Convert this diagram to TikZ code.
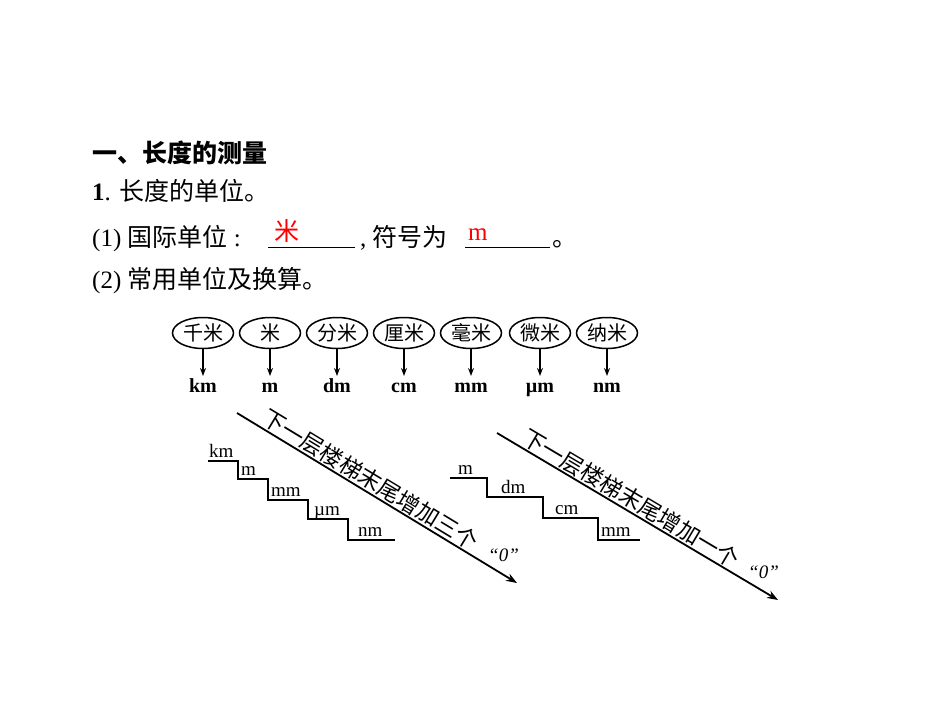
\documentclass[tikz,border=0pt]{standalone}
\usepackage{fontspec}
\usetikzlibrary{shapes.geometric,arrows.meta}
\setmainfont{Liberation Serif}
\newfontfamily\cjk{Noto Sans CJK SC}
\begin{document}
\begin{tikzpicture}[x=1pt,y=-1pt,
  txt/.style={inner sep=0,anchor=base west,font=\fontsize{25}{28}\selectfont},
  ell/.style={draw,ellipse,line width=1.5pt,minimum width=61pt,minimum height=31pt,inner sep=0,font=\cjk\fontsize{20}{20}\selectfont},
  unit/.style={inner sep=0,anchor=base,font=\bfseries\fontsize{20}{20}\selectfont},
  stair/.style={line width=1.5pt},
  arr/.style={line width=1.8pt,-{Stealth[length=11pt,width=8pt]}},
  slant/.style={inner sep=1pt,sloped,font=\cjk\fontsize{22.5}{24}\selectfont},
  sl/.style={inner sep=0,anchor=base west,font=\fontsize{19}{20}\selectfont}]
\useasboundingbox (0,0) rectangle (950,713);
\node[txt,font=\cjk\bfseries\fontsize{25}{28}\selectfont] (h) at (92,162) {一、长度的测量};
\node[txt] (l1) at (92,200) {\textbf{1}. {\cjk 长度的单位。}};
\node[txt] (l2) at (92,246) {(1) {\cjk 国际单位} :};
\draw[line width=1pt] (268,247) -- (355,247);
\node[txt] (l2b) at (360,246) {, {\cjk 符号为}};
\draw[line width=1pt] (465,247) -- (550,247);
\node[txt,font=\cjk\fontsize{25}{28}\selectfont] (l2c) at (552,246) {。};
\node[txt,text=red,font=\cjk\fontsize{25}{28}\selectfont] (a1) at (274,240) {米};
\node[txt,text=red] (a2) at (468,240) {m};
\node[txt] (l3) at (92,288) {(2) {\cjk 常用单位及换算。}};
\foreach \n/\x/\c/\u in {e1/203/千米/km,e2/270/米/m,e3/337/分米/dm,e4/404/厘米/cm,e5/471/毫米/mm,e6/540/微米/\textmu m,e7/607/纳米/nm}{
  \node[ell] (\n) at (\x,333) {\c};
  \node[unit] (u\n) at (\x,392) {\u};
  \draw[line width=1.4pt,-{Stealth[length=8pt,width=6pt]}] (\n.south) -- (\x,376);
}
% left stairs
\draw[stair] (208,461) -- (238,461) -- (238,479) -- (268,479) -- (268,500) -- (308,500) -- (308,519) -- (348,519) -- (348,540) -- (395,540);
\node[sl] (s1) at (209,457) {km};
\node[sl] (s2) at (241,475) {m};
\node[sl] (s3) at (271,496) {mm};
\node[sl] (s4) at (314,515) {\textmu m};
\node[sl] (s5) at (358,536) {nm};
\coordinate (a0) at (237,413); \coordinate (a9) at (517,583);
\draw[arr] (a0) -- (a9) node[slant,pos=0.07,anchor=south west] (t1) {下一层楼梯末尾增加三个};
\node[sl,font=\itshape\fontsize{19}{20}\selectfont] (z1) at (488,561) {“0”};
% right stairs
\draw[stair] (450,478) -- (487,478) -- (487,497) -- (543,497) -- (543,518) -- (598,518) -- (598,540) -- (640,540);
\node[sl] (r1) at (458,474) {m};
\node[sl] (r2) at (501,493) {dm};
\node[sl] (r3) at (555,514) {cm};
\node[sl] (r4) at (601,536) {mm};
\coordinate (b0) at (497,433); \coordinate (b9) at (778,600);
\draw[arr] (b0) -- (b9) node[slant,pos=0.07,anchor=south west] (t2) {下一层楼梯末尾增加一个};
\node[sl,font=\itshape\fontsize{19}{20}\selectfont] (z2) at (748,578) {“0”};
\end{tikzpicture}
\end{document}
